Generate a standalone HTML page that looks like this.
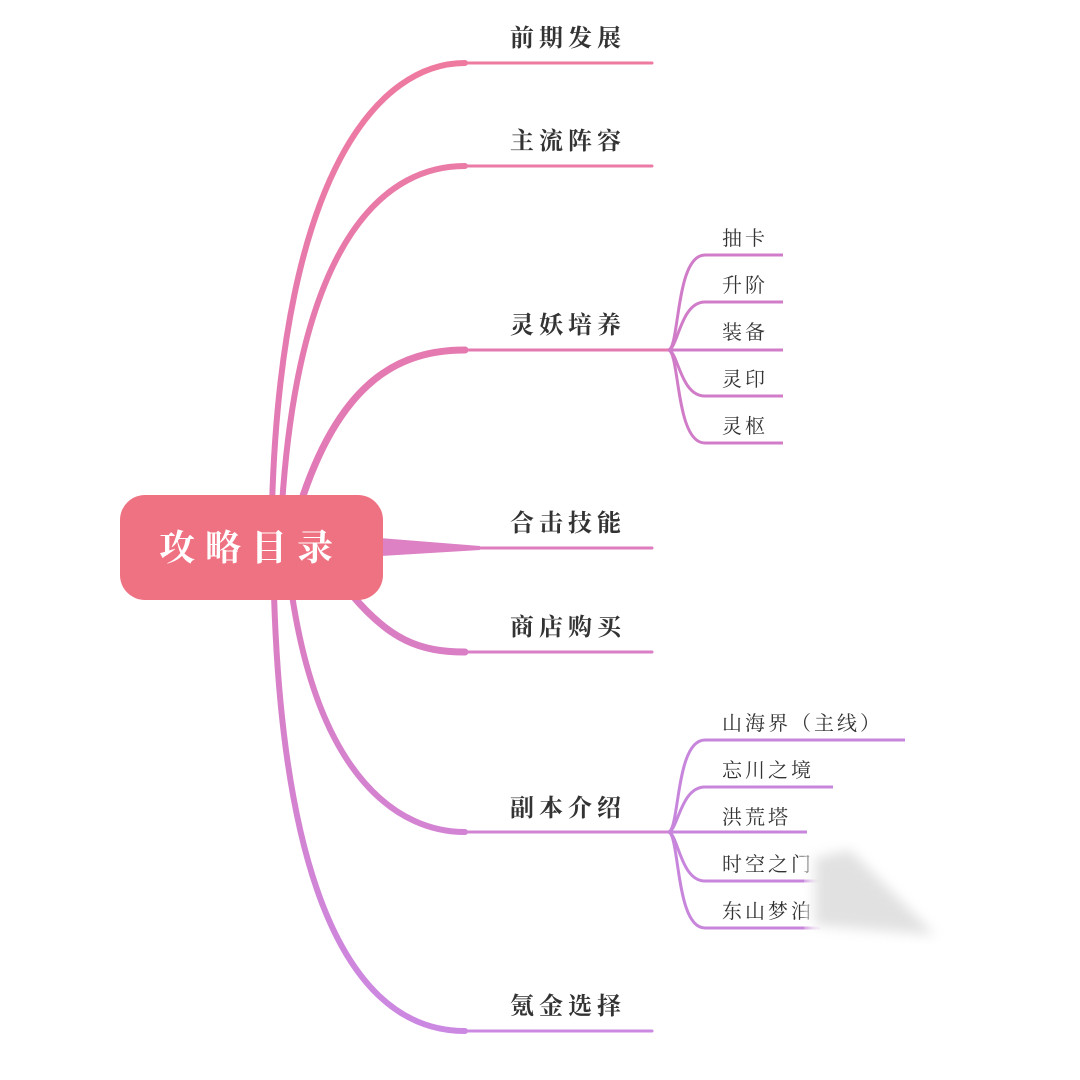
<!DOCTYPE html>
<html><head><meta charset="utf-8"><style>
html,body{margin:0;padding:0;background:#fff}
svg{display:block}
text{font-family:"Liberation Serif","Noto Serif CJK SC","Noto Sans CJK SC",serif;fill:#333}
.m{font-size:24px;font-weight:bold;letter-spacing:5px}
.s{font-size:20px;letter-spacing:3px}
</style></head><body>
<svg width="1080" height="1080" viewBox="0 0 1080 1080" xmlns="http://www.w3.org/2000/svg">
<defs>
<linearGradient id="g" x1="0" y1="0" x2="0" y2="1080" gradientUnits="userSpaceOnUse">
<stop offset="0" stop-color="#f07a9c"/><stop offset="0.45" stop-color="#e07ab8"/><stop offset="1" stop-color="#c98ae6"/>
</linearGradient>
<filter id="bl"><feGaussianBlur stdDeviation="6"/></filter>
</defs>
<g fill="none" stroke="url(#g)" stroke-linecap="round">
<path d="M272,505 C282,170 380,63 465,63" stroke-width="6"/>
<path d="M282,505 C300,230 390,166 465,166" stroke-width="6"/>
<path d="M300,505 C340,380 400,350 465,350" stroke-width="7"/>
<path d="M352,595 C390,640 420,652 465,652" stroke-width="7"/>
<path d="M292,595 C320,780 400,832 465,832" stroke-width="6"/>
<path d="M274,595 C285,950 380,1031 465,1031" stroke-width="6"/>
<path d="M465,63 H652 M465,166 H652 M465,350 H668 M465,548 H652 M465,652 H652 M465,832 H668 M465,1031 H652" stroke-width="3"/>
</g>
<polygon points="380,538 480,546 480,550 380,556" fill="#dd80c4"/>
<g fill="none" stroke="#d07cc8" stroke-width="3">
<path d="M668,350 C680,350 675,255 705,255 H783"/>
<path d="M668,350 C678,350 680,302 705,302 H783"/>
<path d="M668,350 H783"/>
<path d="M668,350 C678,350 680,396 705,396 H783"/>
<path d="M668,350 C680,350 675,443 705,443 H783"/>
</g>
<g fill="none" stroke="#c786dc" stroke-width="3">
<path d="M668,832 C680,832 675,740 705,740 H905"/>
<path d="M668,832 C678,832 680,787 705,787 H833"/>
<path d="M668,832 H807"/>
<path d="M668,832 C678,832 680,881 705,881 H820"/>
<path d="M668,832 C680,832 675,928 705,928 H820"/>
</g>
<rect x="120" y="495" width="263" height="105" rx="25" fill="#ef7282"/>
<text x="251" y="560" text-anchor="middle" style="font-size:36px;font-weight:bold;fill:#fff;letter-spacing:10px">攻略目录</text>
<text class="m" x="510" y="46">前期发展</text>
<text class="m" x="510" y="149">主流阵容</text>
<text class="m" x="510" y="333">灵妖培养</text>
<text class="m" x="510" y="531">合击技能</text>
<text class="m" x="510" y="635">商店购买</text>
<text class="m" x="510" y="816">副本介绍</text>
<text class="m" x="510" y="1014">氪金选择</text>
<text class="s" x="722" y="245">抽卡</text>
<text class="s" x="722" y="292">升阶</text>
<text class="s" x="722" y="339">装备</text>
<text class="s" x="722" y="386">灵印</text>
<text class="s" x="722" y="433">灵枢</text>
<text class="s" x="722" y="730">山海界（主线）</text>
<text class="s" x="722" y="777">忘川之境</text>
<text class="s" x="722" y="824">洪荒塔</text>
<text class="s" x="722" y="871">时空之门</text>
<text class="s" x="722" y="918">东山梦泊</text>
<rect x="808" y="848" width="40" height="88" fill="#fff" filter="url(#bl)"/>
<polygon points="815,858 850,850 935,935 815,925" fill="#aaa" opacity="0.35" filter="url(#bl)"/>
</svg>
</body></html>
